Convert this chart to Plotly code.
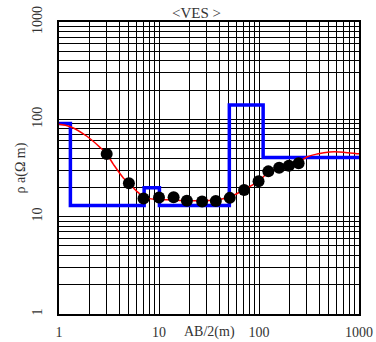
import plotly.graph_objects as go

# Measured apparent resistivity (AB/2 in m, rho_a in ohm-m)
ab2 = [3, 5, 7, 10, 14, 19, 27, 37, 51, 71, 99, 124, 159, 199, 249]
rho_obs = [44, 22, 15.4, 15.7, 15.8, 14.6, 14.3, 14.5, 15.6, 18.8, 23.1, 29.2, 31.8, 33.4, 35.3]

# Calculated (model response) curve
calc_x = [1, 1.3, 1.9, 2.6, 3.0, 3.5, 4.4, 5, 6, 7, 7.6, 9.4, 12, 16, 20, 27, 37,
          50, 70, 100, 125, 160, 200, 250, 300, 380, 510, 700, 950, 1000]
calc_y = [89, 84, 67, 51, 44, 34.5, 25, 22, 18.2, 16, 15.5, 15, 14.9, 14.7, 14.6, 14.6, 14.8,
          15.8, 18.8, 23.3, 28.8, 31.8, 34, 36.5, 41, 44, 46.2, 46, 44.4, 44.2]

# Layered model: top depth of each layer and its resistivity
layer_top = [1, 1.3, 7.1, 10.1, 50.5, 110, 1000]
layer_rho = [90.5, 13, 19.8, 13, 140, 40.5, 40.5]

tick_vals = [1, 10, 100, 1000]
tick_text = ["1", "10", "100", "1000"]

serif = "Liberation Serif"
txt = "#333"

fig = go.Figure()
fig.add_trace(go.Scatter(x=layer_top, y=layer_rho, mode="lines", line_shape="hv",
                         line=dict(color="#0000ff", width=3.5), hoverinfo="skip"))
fig.add_trace(go.Scatter(x=calc_x, y=calc_y, mode="lines", line_shape="spline",
                         line=dict(color="#ff0000", width=1.5), hoverinfo="skip"))
fig.add_trace(go.Scatter(x=ab2, y=rho_obs, mode="markers",
                         marker=dict(color="black", size=12, line=dict(width=0)),
                         hoverinfo="skip"))

axis_common = dict(
    type="log", range=[0, 3], tickvals=tick_vals, ticktext=tick_text,
    showgrid=True, gridcolor="black", gridwidth=1,
    minor=dict(dtick="D1", showgrid=True, gridcolor="black", gridwidth=1, ticks=""),
    showline=True, linecolor="black", linewidth=2, mirror=True,
    ticks="", zeroline=False, automargin=False,
    tickfont=dict(family=serif, size=14, color=txt),
)

fig.update_xaxes(**axis_common, ticklabelstandoff=4)
fig.update_yaxes(**axis_common, tickangle=-90, ticklabelstandoff=9,
                 title=dict(text="ρ a(Ω m)", font=dict(family=serif, size=14, color=txt),
                            standoff=2))

fig.add_annotation(text="AB/2(m)", xref="paper", yref="paper", x=0.503, y=0,
                   yanchor="middle", yshift=-18, showarrow=False,
                   font=dict(family=serif, size=14, color=txt))
fig.add_annotation(text="<VES >", xref="paper", yref="paper", x=0.457, y=1,
                   yanchor="bottom", yshift=-1, showarrow=False,
                   font=dict(family=serif, size=15, color=txt))

fig.update_layout(
    width=376, height=342, showlegend=False,
    margin=dict(l=59, r=17, t=22, b=28, autoexpand=False),
    paper_bgcolor="white", plot_bgcolor="white",
)

fig.write_html("out.html")
